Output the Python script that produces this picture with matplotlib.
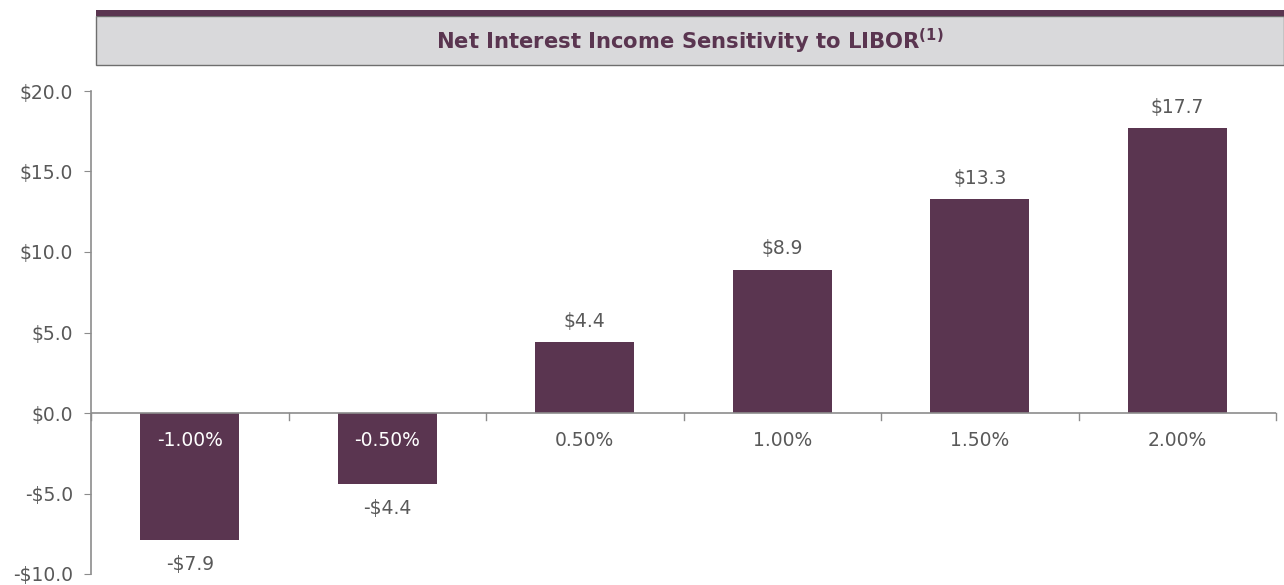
import matplotlib
matplotlib.use("Agg")
import matplotlib.pyplot as plt
from matplotlib.patches import Rectangle
import numpy as np

categories = ["-1.00%", "-0.50%", "0.50%", "1.00%", "1.50%", "2.00%"]
values = [-7.9, -4.4, 4.4, 8.9, 13.3, 17.7]
value_labels = ["-$7.9", "-$4.4", "$4.4", "$8.9", "$13.3", "$17.7"]
yticks = [-10, -5, 0, 5, 10, 15, 20]
ytick_labels = ["-$10.0", "-$5.0", "$0.0", "$5.0", "$10.0", "$15.0", "$20.0"]
title = r"Net Interest Income Sensitivity to LIBOR$^{\mathbf{(1)}}$"

BAR = "#5A3550"
TXT = "#595959"
AX = "#8C8C8C"
FS = 13.5

W, H = 1284, 585
fig = plt.figure(figsize=(W / 100, H / 100), dpi=100)
plt.rcParams["font.family"] = ["DejaVu Sans"]

def fx(px): return px / W
def fy(py): return 1 - py / H

fig.patches.append(Rectangle((fx(96), fy(65)), 1 - fx(96), fy(16) - fy(65),
                             transform=fig.transFigure, facecolor="#D9D9DB",
                             edgecolor="#6E6E6E", linewidth=1.0, zorder=0))
fig.patches.append(Rectangle((fx(96), fy(16)), 1 - fx(96), fy(10) - fy(16),
                             transform=fig.transFigure, facecolor=BAR,
                             edgecolor="none", zorder=1))
fig.text(fx(690), fy(41), title, ha="center", va="center", fontsize=15.2,
         fontweight="bold", color=BAR)

ax = fig.add_axes([fx(91), fy(574), fx(1276) - fx(91), fy(91) - fy(574)])
x = np.arange(len(categories))
ax.bar(x, values, width=0.5, color=BAR, zorder=2)
ax.set_xlim(-0.5, len(categories) - 0.5)
ax.set_ylim(-10, 20)

for s in ["top", "right", "bottom"]:
    ax.spines[s].set_visible(False)
ax.spines["left"].set_color(AX)
ax.spines["left"].set_linewidth(1.2)
ax.axhline(0, color=AX, linewidth=1.2, zorder=3)

ax.set_yticks(yticks)
ax.set_yticklabels(ytick_labels)
ax.tick_params(axis="y", length=5, color=AX, labelsize=FS, labelcolor=TXT, pad=8)
ax.set_xticks([])

for b in np.arange(-0.5, len(categories) + 0.5, 1.0):
    ax.plot([b, b], [0, -0.45], color=AX, linewidth=1.0, clip_on=False, zorder=3)

for xi, v, lab, cat in zip(x, values, value_labels, categories):
    if v >= 0:
        ax.annotate(lab, (xi, v), xytext=(0, 15), textcoords="offset points",
                    ha="center", va="center", fontsize=FS, color=TXT)
        ax.annotate(cat, (xi, 0), xytext=(0, -20), textcoords="offset points",
                    ha="center", va="center", fontsize=FS, color=TXT)
    else:
        ax.annotate(lab, (xi, v), xytext=(0, -17.5), textcoords="offset points",
                    ha="center", va="center", fontsize=FS, color=TXT)
        ax.annotate(cat, (xi, 0), xytext=(0, -20), textcoords="offset points",
                    ha="center", va="center", fontsize=FS, color="white", zorder=5)

fig.savefig("out.png", dpi=100)
